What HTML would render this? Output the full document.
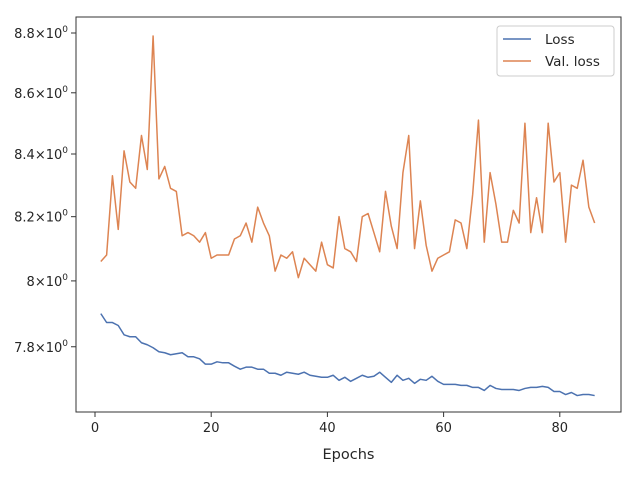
<!DOCTYPE html>
<html><head><meta charset="utf-8"><style>
body{margin:0;background:#fff;}
svg{display:block;font-family:"DejaVu Sans","Liberation Sans",sans-serif;}
</style></head><body>
<svg id="chart" width="640" height="480">
<rect x="0" y="0" width="640" height="480" fill="#fff"/>
<g id="plot"></g>
</svg>
<script>
const epochs = Array.from({length:86},(_,i)=>i+1);
const lossValues = [7.90,7.873,7.873,7.864,7.836,7.83,7.83,7.812,7.806,7.797,7.785,7.782,7.776,7.779,7.782,7.77,7.77,7.764,7.748,7.748,7.755,7.752,7.752,7.742,7.733,7.739,7.739,7.733,7.733,7.721,7.721,7.715,7.724,7.721,7.718,7.724,7.715,7.712,7.709,7.709,7.715,7.70,7.709,7.697,7.706,7.715,7.709,7.712,7.724,7.709,7.694,7.715,7.70,7.706,7.691,7.703,7.70,7.712,7.697,7.688,7.688,7.688,7.685,7.685,7.679,7.679,7.67,7.685,7.676,7.673,7.673,7.673,7.67,7.676,7.679,7.679,7.682,7.679,7.667,7.667,7.658,7.664,7.655,7.658,7.658,7.655];
const valLossValues = [8.06,8.08,8.33,8.16,8.41,8.31,8.29,8.46,8.35,8.79,8.32,8.36,8.29,8.28,8.14,8.15,8.14,8.12,8.15,8.07,8.08,8.08,8.08,8.13,8.14,8.18,8.12,8.23,8.18,8.14,8.03,8.08,8.07,8.09,8.01,8.07,8.05,8.03,8.12,8.05,8.04,8.20,8.10,8.09,8.06,8.20,8.21,8.15,8.09,8.28,8.17,8.10,8.34,8.46,8.10,8.25,8.11,8.03,8.07,8.08,8.09,8.19,8.18,8.10,8.27,8.51,8.12,8.34,8.24,8.12,8.12,8.22,8.18,8.50,8.15,8.26,8.15,8.50,8.31,8.34,8.12,8.30,8.29,8.38,8.23,8.18];
const xTicks = [0,20,40,60,80];
const yTicks = [7.8,8.0,8.2,8.4,8.6,8.8];
const yTickLabels = ["7.8","8","8.2","8.4","8.6","8.8"];

const NS="http://www.w3.org/2000/svg";
const L=76,R=621,T=17,B=412;
const xs=v=>95+(v-0)*5.81;
const ys=v=>33+(Math.log(8.8)-Math.log(v))*2601;
const g=document.getElementById('plot');
function mk(tag,attrs){const e=document.createElementNS(NS,tag);for(const k in attrs)e.setAttribute(k,attrs[k]);g.appendChild(e);return e;}

xTicks.forEach(v=>{
  const t=mk('line',{x1:xs(v),x2:xs(v),y1:B,y2:B+5,stroke:'#333','stroke-width':1});
  
  
  const tx=mk('text',{x:xs(v),y:B+20,'text-anchor':'middle','font-size':13,fill:'#262626'});
  tx.textContent=v;
  
  
});
yTicks.forEach((v,i)=>{
  const t=mk('line',{x1:L-5,x2:L,y1:ys(v),y2:ys(v),stroke:'#333','stroke-width':1});
  
  
  const tx=mk('text',{x:L-8,y:ys(v)+5,'text-anchor':'end','font-size':13,fill:'#262626'});
  tx.innerHTML=yTickLabels[i]+'\u00d710<tspan dy="-6" font-size="9">0</tspan>';
  
  
});

function line(vals,color,name){
  const p=mk('polyline',{points:vals.map((v,i)=>xs(epochs[i])+','+ys(v)).join(' '),fill:'none',stroke:color,'stroke-width':1.5,'stroke-linejoin':'round'});
  
  
}
line(lossValues,'#4c72b0','loss-line');
line(valLossValues,'#dd8452','val-loss-line');

const frame=mk('rect',{x:L,y:T,width:R-L,height:B-T,fill:'none',stroke:'#333','stroke-width':1});



const xl=mk('text',{x:(L+R)/2,y:459,'text-anchor':'middle','font-size':14.5,fill:'#262626'});
xl.textContent='Epochs';



const lg=mk('rect',{x:497,y:26,width:117,height:50,rx:3,fill:'#fff',stroke:'#ccc','stroke-width':1});


[['Loss','#4c72b0',39],['Val. loss','#dd8452',61]].forEach(([n,c,y])=>{
  const l=mk('line',{x1:503,x2:531,y1:y,y2:y,stroke:c,'stroke-width':1.5});
  
  
  const t=mk('text',{x:545,y:y+5,'font-size':13.5,fill:'#262626'});
  t.textContent=n;
  
  
});
</script>
</body></html>
